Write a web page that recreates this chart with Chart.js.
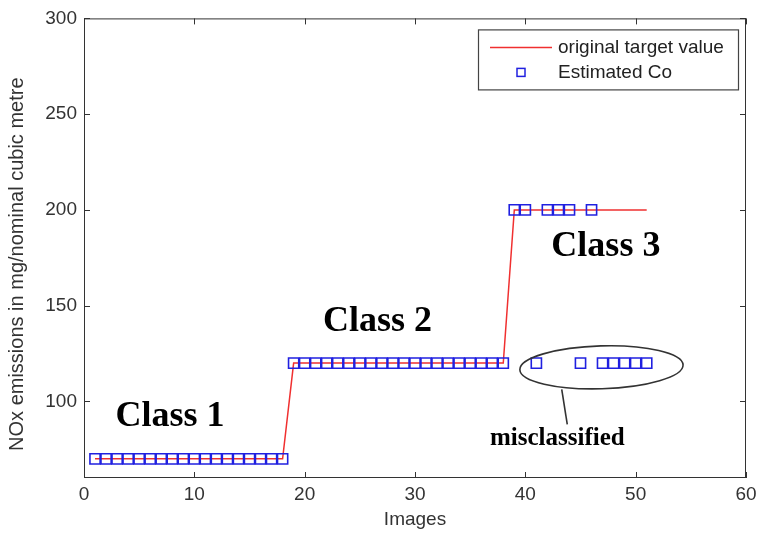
<!DOCTYPE html>
<html>
<head>
<meta charset="utf-8">
<script src="https://cdn.jsdelivr.net/npm/chart.js@4.4.1/dist/chart.umd.min.js"></script>
<style>
  html, body { margin: 0; padding: 0; background: #fff; }
  #wrap { width: 763px; height: 536px; }
</style>
</head>
<body>
<div id="wrap"><canvas id="c" width="763" height="536"></canvas></div>
<script>
// Image index for every sample
const images = [1,2,3,4,5,6,7,8,9,10,11,12,13,14,15,16,17,18,19,20,21,22,23,24,25,26,27,28,29,30,31,32,33,34,35,36,37,38,39,40,41,42,43,44,45,46,47,48,49,50,51];
// Original target NOx value for each image
const targetValues = [70,70,70,70,70,70,70,70,70,70,70,70,70,70,70,70,70,70,
  120,120,120,120,120,120,120,120,120,120,120,120,120,120,120,120,120,120,120,120,
  200,200,200,200,200,200,200,200,200,200,200,200,200];
// Estimated class value for each image
const estimatedValues = [70,70,70,70,70,70,70,70,70,70,70,70,70,70,70,70,70,70,
  120,120,120,120,120,120,120,120,120,120,120,120,120,120,120,120,120,120,120,120,
  200,200,120,200,200,200,120,200,120,120,120,120,120];
const xTicks = [0,10,20,30,40,50,60];
const yTicks = [100,150,200,250,300];
const xTitle = 'Images';
const yTitle = 'NOx emissions in mg/nominal cubic metre';
const seriesNames = ['original target value', 'Estimated Co'];

// Text notes placed in data coordinates
const notes = [
  { text: 'Class 1', x: 7.8, y: 92.2, size: 36 },
  { text: 'Class 2', x: 26.6, y: 141.8, size: 36 },
  { text: 'Class 3', x: 47.3, y: 180.9, size: 36 },
  { text: 'misclassified', x: 42.9, y: 80.4, size: 25 }
];
const ring = { x: 46.9, y: 117.8, rx: 7.4, ry: 11.2 };
const pointer = { x1: 43.3, y1: 106.3, x2: 43.8, y2: 88.0 };

const targetData = images.map((im, i) => ({ x: im, y: targetValues[i] }));
const estData = images.map((im, i) => ({ x: im, y: estimatedValues[i] }));

const LABEL_FONT = '"Liberation Sans", Arial, sans-serif';
const RED = '#f03030';
const BLUE = '#2020e0';

const framePlugin = {
  id: 'frame',
  afterDatasetsDraw(chart) {
    const { ctx, chartArea: a, scales } = chart;
    const xs = scales.x, ys = scales.y;
    ctx.save();
    // axes box
    ctx.strokeStyle = '#333';
    ctx.lineWidth = 1;
    ctx.strokeRect(a.left + 0.5, a.top + 0.5, a.right - a.left - 1, a.bottom - a.top - 1);
    // inward ticks on all four sides
    const tl = 6;
    ctx.beginPath();
    xTicks.forEach(v => {
      const px = Math.round(xs.getPixelForValue(v)) + 0.5;
      ctx.moveTo(px, a.bottom); ctx.lineTo(px, a.bottom - tl);
      ctx.moveTo(px, a.top); ctx.lineTo(px, a.top + tl);
    });
    yTicks.forEach(v => {
      const py = Math.round(ys.getPixelForValue(v)) + 0.5;
      ctx.moveTo(a.left, py); ctx.lineTo(a.left + tl, py);
      ctx.moveTo(a.right, py); ctx.lineTo(a.right - tl, py);
    });
    ctx.stroke();

    // y axis title, rotated
    ctx.save();
    ctx.translate(17, (a.top + a.bottom) / 2 + 16);
    ctx.rotate(-Math.PI / 2);
    ctx.fillStyle = '#333';
    ctx.font = '20px ' + LABEL_FONT;
    ctx.textAlign = 'center';
    ctx.textBaseline = 'middle';
    ctx.fillText(yTitle, 0, 0);
    ctx.restore();

    // ellipse around misclassified samples
    const cx = xs.getPixelForValue(ring.x), cy = ys.getPixelForValue(ring.y);
    const rx = xs.getPixelForValue(ring.x + ring.rx) - cx;
    const ry = cy - ys.getPixelForValue(ring.y + ring.ry);
    ctx.strokeStyle = '#333';
    ctx.lineWidth = 1.6;
    ctx.beginPath();
    ctx.ellipse(cx, cy, rx, ry, -0.03, 0, Math.PI * 2);
    ctx.stroke();
    ctx.beginPath();
    ctx.moveTo(xs.getPixelForValue(pointer.x1), ys.getPixelForValue(pointer.y1));
    ctx.lineTo(xs.getPixelForValue(pointer.x2), ys.getPixelForValue(pointer.y2));
    ctx.stroke();

    // notes
    ctx.fillStyle = '#000';
    ctx.textAlign = 'center';
    ctx.textBaseline = 'middle';
    notes.forEach(n => {
      ctx.font = 'bold ' + n.size + 'px "Liberation Serif", "Times New Roman", serif';
      ctx.fillText(n.text, xs.getPixelForValue(n.x), ys.getPixelForValue(n.y));
    });

    // legend box
    const lx = a.right - 268, ly = a.top + 11, lw = 260, lh = 60;
    ctx.fillStyle = '#fff';
    ctx.fillRect(lx, ly, lw, lh);
    ctx.strokeStyle = '#444';
    ctx.lineWidth = 1.2;
    ctx.strokeRect(lx + 0.5, ly + 0.5, lw, lh);
    ctx.strokeStyle = RED;
    ctx.lineWidth = 1.5;
    ctx.beginPath();
    ctx.moveTo(lx + 12, ly + 18); ctx.lineTo(lx + 74, ly + 18);
    ctx.stroke();
    ctx.strokeStyle = BLUE;
    ctx.lineWidth = 1.5;
    ctx.strokeRect(lx + 39, ly + 39, 8, 8);
    ctx.fillStyle = '#222';
    ctx.font = '19px ' + LABEL_FONT;
    ctx.textAlign = 'left';
    ctx.fillText(seriesNames[0], lx + 80, ly + 18);
    ctx.fillText(seriesNames[1], lx + 80, ly + 43);
    ctx.restore();
  }
};

new Chart(document.getElementById('c'), {
  type: 'scatter',
  data: {
    datasets: [
      {
        label: seriesNames[0],
        data: targetData,
        showLine: true,
        borderColor: RED,
        borderWidth: 1.5,
        pointRadius: 0,
        order: 2
      },
      {
        label: seriesNames[1],
        data: estData,
        showLine: false,
        pointStyle: 'rect',
        pointRadius: 7.2,
        pointBorderColor: BLUE,
        pointBackgroundColor: 'rgba(0,0,0,0)',
        pointBorderWidth: 1.6,
        order: 1
      }
    ]
  },
  options: {
    responsive: false,
    animation: false,
    events: [],
    layout: { padding: { top: 17, right: 17, left: 0, bottom: 0 } },
    plugins: { legend: { display: false }, tooltip: { enabled: false } },
    scales: {
      x: {
        type: 'linear',
        min: 0, max: 60,
        grid: { display: false, drawTicks: false },
        border: { display: false },
        afterBuildTicks: s => { s.ticks = xTicks.map(v => ({ value: v })); },
        afterFit: s => { s.height = 58; },
        ticks: { color: '#333', padding: 5, font: { family: LABEL_FONT, size: 19 } },
        title: {
          display: true, text: xTitle, color: '#333',
          font: { family: LABEL_FONT, size: 19 }, padding: { top: 0, bottom: 5 }
        }
      },
      y: {
        type: 'linear',
        min: 60, max: 300,
        grid: { display: false, drawTicks: false },
        border: { display: false },
        afterBuildTicks: s => { s.ticks = yTicks.map(v => ({ value: v })); },
        afterFit: s => { s.width = 84; },
        ticks: { color: '#333', padding: 7, font: { family: LABEL_FONT, size: 19 } }
      }
    }
  },
  plugins: [framePlugin]
});
</script>
</body>
</html>
